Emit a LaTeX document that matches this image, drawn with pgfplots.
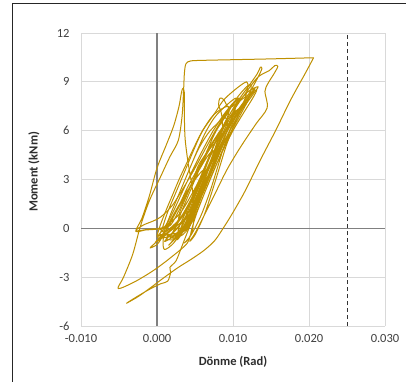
\documentclass[border=0pt]{standalone}
\usepackage{fontspec}
\setmainfont{Carlito}
\usepackage{pgfplots}
\pgfplotsset{compat=1.18}
\definecolor{curve}{RGB}{191,144,0}
\definecolor{ticktxt}{RGB}{64,64,64}
\definecolor{titletxt}{RGB}{45,45,45}
\definecolor{gridc}{RGB}{217,217,217}
\definecolor{zeroc}{RGB}{128,128,128}
\begin{document}
\begin{tikzpicture}[x=1pt,y=1pt]
\useasboundingbox (0,0) rectangle (406,381);
\fill[white] (0,0) rectangle (406,381);
\draw[black!85, line width=1pt] (12,-10) -- (12,377) -- (420,377);
\begin{axis}[
  at={(81pt,55pt)}, anchor=south west,
  scale only axis, width=304pt, height=293pt,
  xmin=-0.010, xmax=0.030, ymin=-6, ymax=12,
  xtick={-0.010,0,0.010,0.020,0.030},
  xticklabels={-0.010,0.000,0.010,0.020,0.030},
  ytick={-6,-3,0,3,6,9,12},
  yticklabels={-6,-3,0,3,6,9,12},
  scaled x ticks=false,
  grid=major,
  major grid style={draw=gridc, line width=0.9pt},
  axis line style={draw=none},
  major tick length=0pt,
  tick label style={font=\fontsize{12.5}{14}\selectfont, text=ticktxt},
  xticklabel style={yshift=-5pt},
  yticklabel style={xshift=-8pt},
  xlabel={Dönme (Rad)},
  ylabel={Moment (kNm)},
  label style={font=\fontsize{12.5}{14}\selectfont\bfseries, text=titletxt},
  xlabel style={at={(axis description cs:0.5,-0.123)}, anchor=center},
  ylabel style={at={(axis description cs:-0.155,0.526)}, anchor=center},
  clip=false,
]
\addplot[zeroc, line width=1.6pt] coordinates {(0,-6) (0,12)};
\addplot[zeroc, line width=1.6pt] coordinates {(-0.010,0) (0.030,0)};
\addplot[black!80, line width=1pt, dash pattern=on 4pt off 3pt] coordinates {(0.025,-6) (0.025,12)};
\addplot[curve, line width=1pt, line join=round, smooth, tension=0.5] coordinates {
(0,0) (0.0010,0.10) (0.0030,0.90) (0.0047,2.20) (0.0058,3.20) (0.0062,3.60)
(0.0055,3.30) (0.0040,2.30) (0.0026,1.20) (0.0014,0.20) (0.0004,-0.30) (0.0001,-0.50)
(0.0012,-0.20) (0.0030,0.60) (0.0045,1.80) (0.0058,3.00) (0.0068,4.20) (0.0074,4.80)
(0.0066,4.40) (0.0052,3.30) (0.0038,2.10) (0.0024,0.90) (0.0012,-0.10) (0.0003,-0.60) (-0.0002,-0.85)
(0.0008,-0.55) (0.0025,0.20) (0.0042,1.40) (0.0057,2.80) (0.0070,4.10) (0.0080,5.30) (0.0088,6.20) (0.0092,6.50)
(0.0083,6.00) (0.0068,4.90) (0.0054,3.70) (0.0040,2.50) (0.0027,1.20) (0.0015,0.10) (0.0006,-0.60) (0.0000,-1.00) (-0.0009,-1.20)
(0.0000,-0.80) (0.0015,-0.20) (0.0030,0.50) (0.0046,1.70) (0.0060,3.00) (0.0073,4.30) (0.0085,5.50) (0.0096,6.60) (0.0103,7.20)
(0.0098,7.00) (0.0086,6.20) (0.0072,5.10) (0.0058,3.90) (0.0044,2.60) (0.0030,1.20) (0.0018,0.20) (0.0008,0.00) (-0.0010,-0.05) (-0.0028,-0.15)
(-0.0018,0.20) (-0.0005,0.45) (0.0005,0.70) (0.0020,1.40) (0.0035,2.50) (0.0050,3.70) (0.0065,5.00) (0.0078,6.10) (0.0090,7.00) (0.0100,7.60) (0.0108,8.00)
(0.0100,7.70) (0.0088,7.00) (0.0074,6.00) (0.0060,4.80) (0.0046,3.50) (0.0033,2.20) (0.0020,0.90) (0.0010,0.10) (0.0000,-0.05) (-0.0015,-0.10) (-0.0028,-0.18)
(-0.0020,0.60) (-0.0010,2.00) (0.0000,3.70) (0.0012,5.10) (0.0022,6.30) (0.0029,7.50) (0.0032,8.30) (0.0034,8.60)
(0.0036,8.30) (0.0036,7.00) (0.0037,5.50) (0.0041,4.00) (0.0046,2.60) (0.0049,1.20) (0.0047,0.00) (0.0042,-0.60) (0.0036,-0.90)
(0.0045,-0.40) (0.0058,0.80) (0.0070,2.30) (0.0080,3.80) (0.0090,5.30) (0.0100,6.50) (0.0112,7.50) (0.0122,8.10) (0.0128,8.40)
(0.0123,8.20) (0.0110,7.50) (0.0097,6.60) (0.0085,5.50) (0.0072,4.20) (0.0058,2.80) (0.0045,1.40) (0.0035,0.30) (0.0028,-0.40) (0.0022,-0.70)
(0.0012,-0.60) (0.0027,0.00) (0.0038,1.00) (0.0047,2.00) (0.0056,3.00) (0.0065,4.00) (0.0074,5.00) (0.0084,6.00) (0.0094,7.00) (0.0093,7.50)
(0.0075,7.00) (0.0060,6.00) (0.0050,5.00) (0.0041,4.00) (0.0032,3.00) (0.0023,2.00) (0.0014,1.00) (0.0007,0.00) (0.0005,-0.40)
(0.0026,-0.30) (0.0041,0.00) (0.0052,1.00) (0.0061,2.00) (0.0070,3.00) (0.0079,4.00) (0.0088,5.00) (0.0098,6.00) (0.0110,7.00) (0.0121,8.00) (0.0124,8.80)
(0.0118,8.70) (0.0105,8.00) (0.0092,7.00) (0.0078,6.00) (0.0068,5.00) (0.0059,4.00) (0.0050,3.00) (0.0041,2.00) (0.0032,1.00) (0.0024,0.00) (0.0022,-0.30)
(0.0030,-0.30) (0.0045,0.80) (0.0060,2.30) (0.0072,3.80) (0.0080,5.00) (0.0086,6.00) (0.0085,7.00) (0.0081,7.60) (0.0083,8.00) (0.0088,7.90)
(0.0095,7.40) (0.0108,7.80) (0.0120,8.20) (0.0131,8.50)
(0.0126,8.00) (0.0114,7.10) (0.0100,6.00) (0.0087,4.80) (0.0074,3.50) (0.0062,2.10) (0.0052,0.90) (0.0046,0.00) (0.0040,-0.90)
(0.0018,-1.80) (-0.0005,-2.60) (-0.0030,-3.30) (-0.0051,-3.70)
(-0.0044,-3.00) (-0.0032,-1.60) (-0.0022,0.10) (-0.0010,1.70) (0.0004,3.10) (0.0017,4.40) (0.0028,5.40) (0.0033,6.90) (0.0035,8.50) (0.0036,9.50) (0.0038,10.10)
(0.0044,10.28) (0.0060,10.32) (0.0100,10.36) (0.0150,10.41) (0.0206,10.48)
};
\addplot[curve, line width=1pt, line join=round, smooth, tension=0.5] coordinates {
(0.0206,10.48)
(0.0196,9.60) (0.0176,7.90) (0.0156,6.00) (0.0136,4.20) (0.0116,2.30) (0.0099,0.90) (0.0087,0.00) (0.0076,-0.75) (0.0062,-1.35) (0.0045,-1.90)
(0.0028,-2.40) (0.0010,-3.00) (-0.0010,-3.70) (-0.0025,-4.20) (-0.0040,-4.60)
(-0.0030,-4.30) (-0.0012,-3.80) (0.0005,-3.40) (0.0014,-3.25) (0.0018,-2.70) (0.0017,-2.40) (0.0025,-2.00) (0.0032,-1.20) (0.0042,0.00)
(0.0055,1.50) (0.0067,3.00) (0.0078,4.40) (0.0090,5.80) (0.0105,7.10) (0.0120,8.20) (0.0132,9.20) (0.0138,9.80)
(0.0136,9.90) (0.0132,9.50) (0.0120,8.70) (0.0106,7.80) (0.0092,6.70) (0.0078,5.40) (0.0065,4.00) (0.0052,2.50) (0.0040,1.00) (0.0030,-0.10) (0.0020,-0.80) (0.0016,-1.00)
(0.0037,0.00) (0.0048,1.00) (0.0058,2.00) (0.0067,3.00) (0.0076,4.00) (0.0084,5.00) (0.0092,6.00) (0.0090,6.80)
(0.0070,6.00) (0.0056,5.00) (0.0046,4.00) (0.0037,3.00) (0.0028,2.00) (0.0019,1.00) (0.0011,0.00) (0.0008,-0.80)
(0.0010,-1.30)
(0.0022,-0.90) (0.0036,0.10) (0.0050,1.50) (0.0063,3.00) (0.0075,4.50) (0.0088,6.00) (0.0102,7.30) (0.0118,8.40) (0.0133,9.30) (0.0148,9.70) (0.0155,10.00) (0.0159,9.95)
(0.0154,9.50) (0.0146,8.90) (0.0142,8.40) (0.0145,7.40) (0.0130,6.40) (0.0110,5.00) (0.0092,3.60) (0.0075,2.00) (0.0060,0.60) (0.0050,-0.30) (0.0043,-0.80)
(0.0050,-0.40) (0.0062,0.80) (0.0072,2.20) (0.0082,3.70) (0.0092,5.20) (0.0104,6.60) (0.0116,7.70) (0.0125,8.40) (0.0129,8.60)
(0.0122,8.10) (0.0108,7.20) (0.0095,6.20) (0.0082,5.00) (0.0068,3.60) (0.0055,2.10) (0.0043,0.70) (0.0033,-0.30) (0.0026,-0.70)
(0.0030,0.20) (0.0042,1.00) (0.0052,2.00) (0.0061,3.00) (0.0070,4.00) (0.0078,5.00) (0.0077,5.30)
(0.0056,4.00) (0.0048,3.00) (0.0039,2.00) (0.0030,1.00) (0.0027,0.30)
(0.0018,-0.50) (0.0033,0.00) (0.0044,1.00) (0.0053,2.00) (0.0062,3.00) (0.0071,4.00) (0.0080,5.00) (0.0090,6.00) (0.0101,7.00) (0.0104,8.00)
(0.0079,7.00) (0.0065,6.00) (0.0055,5.00) (0.0046,4.00) (0.0037,3.00) (0.0028,2.00) (0.0019,1.00) (0.0011,0.00) (0.0010,-0.40)
(0.0042,0.80) (0.0059,2.00) (0.0068,3.00) (0.0077,4.00) (0.0086,5.00) (0.0096,6.00) (0.0107,7.00) (0.0106,7.30)
(0.0084,6.00) (0.0074,5.00) (0.0065,4.00) (0.0056,3.00) (0.0047,2.00) (0.0038,1.00) (0.0040,0.70)
(0.0010,-0.80) (0.0036,0.00) (0.0047,1.00) (0.0056,2.00) (0.0065,3.00) (0.0074,4.00) (0.0083,5.00) (0.0093,6.00) (0.0105,7.00) (0.0116,8.00) (0.0118,9.00)
(0.0090,8.00) (0.0075,7.00) (0.0060,6.00) (0.0049,5.00) (0.0039,4.00) (0.0029,3.00) (0.0020,2.00) (0.0011,1.00) (0.0003,0.00) (0.0002,-0.60)
(0.0035,-0.20) (0.0048,1.00) (0.0060,2.50) (0.0070,4.00) (0.0080,5.40) (0.0092,6.70) (0.0106,7.70) (0.0120,8.40) (0.0133,8.70)
(0.0126,8.20) (0.0112,7.30) (0.0098,6.20) (0.0084,4.90) (0.0070,3.50) (0.0057,2.00) (0.0046,0.60) (0.0038,-0.20) (0.0030,-0.50) (0.0020,-0.60) (0.0010,-0.30) (0.0003,0.00)
};
\end{axis}
\end{tikzpicture}
\end{document}
